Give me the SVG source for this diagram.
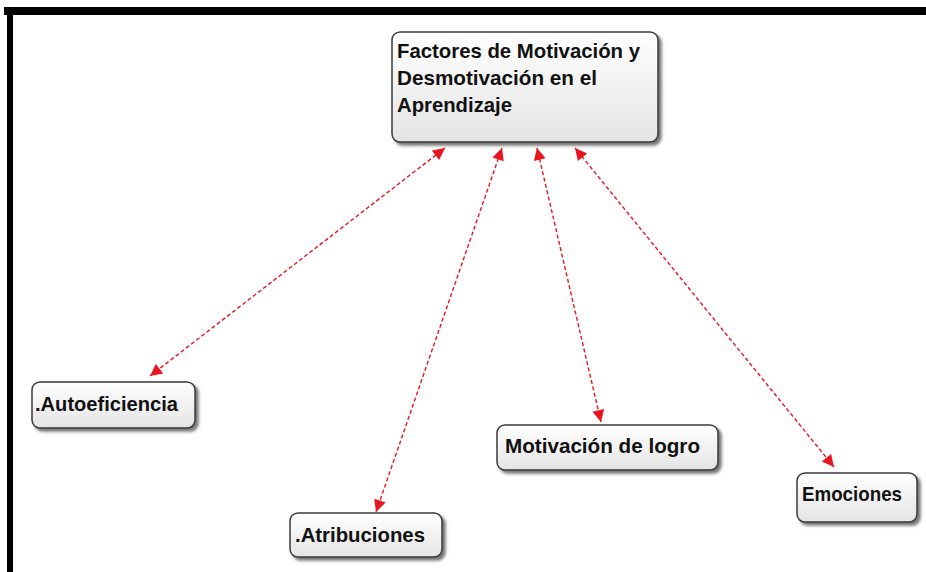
<svg xmlns="http://www.w3.org/2000/svg" width="926" height="572" viewBox="0 0 926 572">
  <defs>
    <linearGradient id="nodeFill" x1="0" y1="0" x2="0" y2="1">
      <stop offset="0" stop-color="#ffffff"/>
      <stop offset="1" stop-color="#e4e4e4"/>
    </linearGradient>
    <filter id="shadow" x="-10%" y="-10%" width="125%" height="140%">
      <feDropShadow dx="3" dy="3" stdDeviation="1.5" flood-color="#555555" flood-opacity="0.8"/>
    </filter>
    <marker id="arrow" viewBox="0 0 10 10" refX="10" refY="5" markerUnits="userSpaceOnUse" markerWidth="15" markerHeight="12" orient="auto-start-reverse">
      <path d="M0,0 L10,5 L0,10 z" fill="#e8141e"/>
    </marker>
  </defs>
  <style>
    .box { fill: url(#nodeFill); stroke: #3a3a3a; stroke-width: 1.5; filter: url(#shadow); }
    .lbl { font-family: "Liberation Sans", Arial, sans-serif; font-weight: bold; font-size: 21px; fill: #111111; }
    .conn { stroke: #e8141e; stroke-width: 1.4; stroke-dasharray: 4 2.5; fill: none; marker-start: url(#arrow); marker-end: url(#arrow); }
  </style>
  <rect x="0" y="0" width="926" height="572" fill="#ffffff"/>
  <g id="frame">
    <line x1="4" y1="11" x2="926" y2="11" stroke="#000" stroke-width="8"/>
    <line x1="10" y1="7" x2="10" y2="572" stroke="#000" stroke-width="6"/>
  </g>
  <g id="connectors">
    <line class="conn" x1="150" y1="376" x2="445" y2="148"/>
    <line class="conn" x1="376" y1="512" x2="502" y2="148"/>
    <line class="conn" x1="601" y1="422" x2="537" y2="148"/>
    <line class="conn" x1="834" y1="467" x2="575" y2="148"/>
  </g>
  <g id="node-main">
    <rect class="box" x="392" y="32" width="266" height="110" rx="8"/>
    <text class="lbl" x="397" y="58" textLength="243" lengthAdjust="spacingAndGlyphs">Factores de Motivación y</text>
    <text class="lbl" x="397" y="85" textLength="200" lengthAdjust="spacingAndGlyphs">Desmotivación en el</text>
    <text class="lbl" x="397" y="112" textLength="115" lengthAdjust="spacingAndGlyphs">Aprendizaje</text>
  </g>
  <g id="node-autoeficiencia">
    <rect class="box" x="32" y="382" width="163" height="46" rx="8"/>
    <text class="lbl" x="35" y="411" textLength="143" lengthAdjust="spacingAndGlyphs">.Autoeficiencia</text>
  </g>
  <g id="node-atribuciones">
    <rect class="box" x="290" y="513" width="152" height="44" rx="8"/>
    <text class="lbl" x="295" y="542" textLength="130" lengthAdjust="spacingAndGlyphs">.Atribuciones</text>
  </g>
  <g id="node-motivacion-logro">
    <rect class="box" x="497" y="425" width="221" height="45" rx="8"/>
    <text class="lbl" x="505" y="453" textLength="195" lengthAdjust="spacingAndGlyphs">Motivación de logro</text>
  </g>
  <g id="node-emociones">
    <rect class="box" x="797" y="473" width="120" height="49" rx="8"/>
    <text class="lbl" x="802" y="501" textLength="100" lengthAdjust="spacingAndGlyphs">Emociones</text>
  </g>
</svg>
